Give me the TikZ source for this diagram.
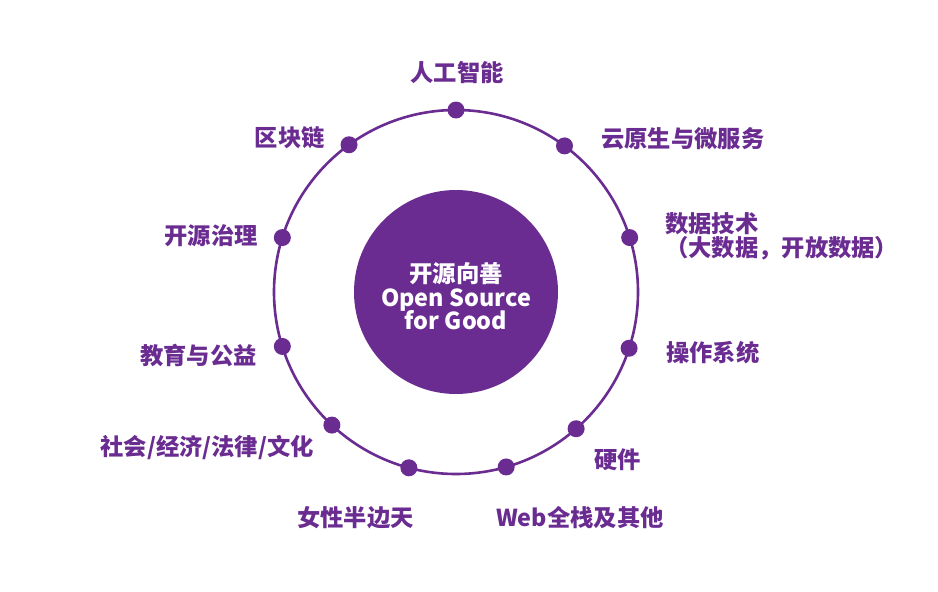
\documentclass[tikz,border=0pt]{standalone}
\usepackage{fontspec}
\usetikzlibrary{calc}
\newfontfamily\cjk{Noto Sans CJK SC}
\definecolor{vio}{HTML}{6A2C91}
\begin{document}
\begin{tikzpicture}[x=1pt,y=-1pt,
  lbl/.style={font=\cjk\bfseries\fontsize{23.3}{27}\selectfont, text=vio, inner sep=0pt},
  dotc/.style={circle, fill=vio, inner sep=0pt, minimum size=17pt}]
\useasboundingbox (0,0) rectangle (938,592);
\coordinate (C) at (456,292);
\draw[vio, line width=2.6pt] (C) circle[radius=182];
\node[circle, fill=vio, minimum size=204pt, inner sep=0pt] (hub) at (C) {};
\node[align=center, inner sep=0pt,
  font=\cjk\bfseries\fontsize{23.4}{24}\selectfont, text=white] (hubtxt) at ($(C)+(0,4)$)
  {开源向善\\[0pt]Open Source\\[-1pt]for Good};
% dots
\foreach \n/\a in {d1/90, d2/53.4, d3/17.4, d4/-18, d5/-48.7, d6/-74, d7/-105, d8/-133, d9/-162.6, d10/162.6, d11/126}
  \node[dotc] (\n) at ($(C)+(\a:182 and -182)$) {};
% labels
\node[lbl] (l1) at (457,73) {人工智能};
\node[lbl, anchor=west] (l2) at (601,139) {云原生与微服务};
\node[lbl, anchor=west, align=left] (l3) at (665,236) {数据技术\\[-3pt]（大数据，开放数据）};
\node[lbl, anchor=west] (l4) at (666,353) {操作系统};
\node[lbl, anchor=west] (l5) at (594,460) {硬件};
\node[lbl, anchor=west] (l6) at (496,518) {Web全栈及其他};
\node[lbl, anchor=west] (l7) at (297,518) {女性半边天};
\node[lbl, anchor=east] (l8) at (314,448) {社会/经济/法律/文化};
\node[lbl, anchor=east] (l9) at (257,356) {教育与公益};
\node[lbl, anchor=east] (l10) at (258,236) {开源治理};
\node[lbl, anchor=east] (l11) at (325,138) {区块链};
\end{tikzpicture}
\end{document}
